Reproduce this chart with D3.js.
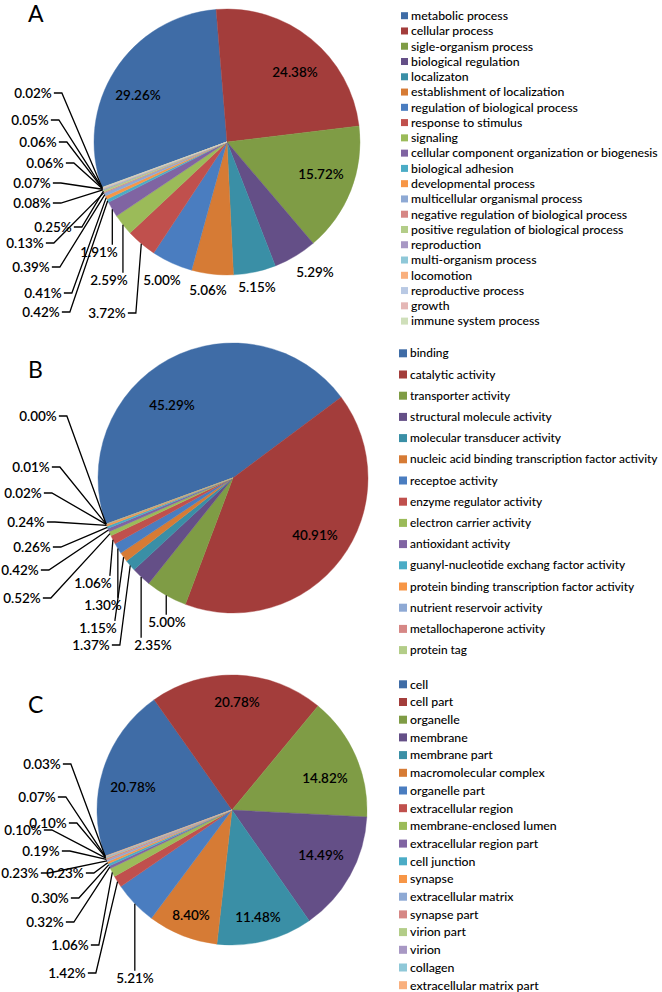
<!DOCTYPE html>
<html><head><meta charset="utf-8">
<script src="https://cdn.jsdelivr.net/npm/d3@7"></script>
<style>body{margin:0;background:#fff} svg{display:block} text{font-family:Lato,"Open Sans",sans-serif;fill:#000}</style>
</head><body><svg id="chart" width="662" height="992"></svg>
<script>
// ---------- DATA ----------
const categoriesA = ["metabolic process","cellular process","sigle-organism process","biological regulation","localizaton","establishment of  localization","regulation of biological process","response to stimulus","signaling","cellular component organization or biogenesis","biological adhesion","developmental process","multicellular organismal process","negative regulation of biological process","positive regulation of biological process","reproduction","multi-organism process","locomotion","reproductive process","growth","immune system process"];
const valuesA = [29.26,24.38,15.72,5.29,5.15,5.06,5.00,3.72,2.59,1.91,0.42,0.41,0.39,0.13,0.25,0.08,0.07,0.06,0.06,0.05,0.02];

const categoriesB = ["binding","catalytic activity","transporter activity","structural molecule activity","molecular transducer activity","nucleic acid binding transcription factor activity","receptoe activity","enzyme regulator activity","electron carrier activity","antioxidant activity","guanyl-nucleotide exchang factor activity","protein binding transcription factor activity","nutrient reservoir activity","metallochaperone activity","protein tag"];
const valuesB = [45.29,40.91,5.00,2.35,1.37,1.15,1.30,1.06,0.52,0.42,0.26,0.24,0.02,0.01,0.00];

const categoriesC = ["cell","cell part","organelle","membrane","membrane part","macromolecular complex","organelle part","extracellular region","membrane-enclosed lumen","extracellular region part","cell junction","synapse","extracellular matrix","synapse part","virion part","virion","collagen","extracellular matrix part"];
const valuesC = [20.78,20.78,14.82,14.49,11.48,8.40,5.21,1.42,1.06,0.32,0.30,0.23,0.23,0.19,0.10,0.10,0.07,0.03];

const palette = ["#3F6CA6","#A33D3B","#7F9C45","#644F87","#3A8FA6","#D67B35","#4A7DC0","#C0504D","#9BBB59","#8064A2","#4BACC6","#F79646","#8EA9D4","#D68785","#B3CD88","#A898C4","#8FC8D8","#F9B07E","#B9C9E4","#E4B7B6","#CFDFBA"];

// ---------- LAYOUT ----------
const panels = [
 {letter:"A", cats:categoriesA, vals:valuesA, cx:227, cy:142, r:133, lx:28, ly:22,
  legX:401, legY0:15.7, legStep:15.27, sw:7, fitW:247,
  labels:[[138,95,"none"],[295,72,"none"],[321,174,"none"],[315,272,"none"],[257,287,"none"],[208,290,"none"],[162,280,"none"],[107,313,"side"],[109,280,"top"],[99,252,"top"],[41,312,"side"],[43,293,"side"],[31,267,"side"],[25,243,"side"],[53,227,"side"],[32,203,"side"],[32,183,"side"],[45,163,"side"],[38,142,"side"],[30,120,"side"],[33,93,"side"]]},
 {letter:"B", cats:categoriesB, vals:valuesB, cx:233, cy:478, r:135, lx:28, ly:378,
  legX:399, legY0:353.3, legStep:21.2, sw:8, fitW:248,
  labels:[[172,405,"none"],[315,535,"none"],[167,622,"top"],[153,645,"top"],[91,645,"side"],[98,628,"top"],[103,605,"top"],[93,583,"top"],[22,598,"side"],[20,570,"side"],[32,547,"side"],[26,522,"side"],[23,493,"side"],[31,467,"side"],[38,416,"side"]]},
 {letter:"C", cats:categoriesC, vals:valuesC, cx:232, cy:810, r:135, lx:28, ly:713,
  legX:399, legY0:684.3, legStep:17.7, sw:8, fitW:147, fitIdx:8,
  labels:[[133,787,"none"],[237,702,"none"],[325,778,"none"],[321,855,"none"],[258,917,"none"],[191,915,"none"],[135,978,"top"],[67,973,"side"],[70,945,"side"],[45,922,"side"],[50,898,"side"],[65,873,"side"],[20,873,"side"],[41,851,"side"],[23,830,"side"],[48,823,"side"],[37,797,"side"],[42,764,"side"]]}
];

const svg = d3.select("#chart");
svg.append("rect").attr("width",662).attr("height",992).attr("fill","#fff");
const start = 250*Math.PI/180;
const pie = d3.pie().sort(null).value(d=>d).startAngle(start).endAngle(start+2*Math.PI);
const labelSize = 13.5;

panels.forEach(p=>{
  const color = d3.scaleOrdinal().domain(p.cats).range(palette);
  const arcs = pie(p.vals);
  const arc = d3.arc().innerRadius(0).outerRadius(p.r);
  const g = svg.append("g");
  const pg = g.append("g").attr("transform",`translate(${p.cx},${p.cy})`);
  pg.selectAll("path").data(arcs).join("path")
    .attr("d",arc).attr("fill",(d,i)=>color(p.cats[i]))
    .attr("stroke",(d,i)=>color(p.cats[i])).attr("stroke-width",0.4);

  // panel letter
  g.append("text").attr("x",p.lx).attr("y",p.ly).attr("font-size",23).text(p.letter);

  // labels + leaders
  const lg = g.append("g");
  arcs.forEach((a,i)=>{
    const [x,y,mode] = p.labels[i];
    const t = lg.append("text").attr("x",x).attr("y",y).attr("dy","0.36em")
      .attr("text-anchor","middle").attr("font-size",labelSize).attr("font-weight",600)
      .text(p.vals[i].toFixed(2)+"%");
    if(mode==="none") return;
    const m = (a.startAngle+a.endAngle)/2;
    const P = [p.cx + p.r*Math.sin(m), p.cy - p.r*Math.cos(m)];
    const bb = t.node().getBBox();
    let pts;
    if(mode==="side"){
      pts = [[bb.x+bb.width+2, y],[bb.x+bb.width+10, y],P];
    } else {
      const tx = Math.max(bb.x+3, Math.min(bb.x+bb.width-2, P[0]));
      pts = [P,[tx, bb.y+1]];
    }
    lg.append("path").attr("d",d3.line()(pts)).attr("fill","none")
      .attr("stroke","#000").attr("stroke-width",1.3);
  });

  // legend
  const leg = g.append("g");
  const items = leg.selectAll("g").data(p.cats).join("g")
    .attr("transform",(d,i)=>`translate(${p.legX},${p.legY0+i*p.legStep})`);
  items.append("rect").attr("x",0).attr("y",-p.sw/2).attr("width",p.sw).attr("height",p.sw)
    .attr("fill",d=>color(d));
  const texts = items.append("text").attr("x",p.sw+3).attr("dy","0.35em").attr("font-size",12).attr("font-weight",500).text(d=>d);
  const fi = p.fitIdx!==undefined ? p.fitIdx : d3.maxIndex(texts.nodes(), n=>n.getComputedTextLength());
  const w = texts.nodes()[fi].getComputedTextLength();
  texts.attr("font-size", 12*p.fitW/w);
});
</script></body></html>
